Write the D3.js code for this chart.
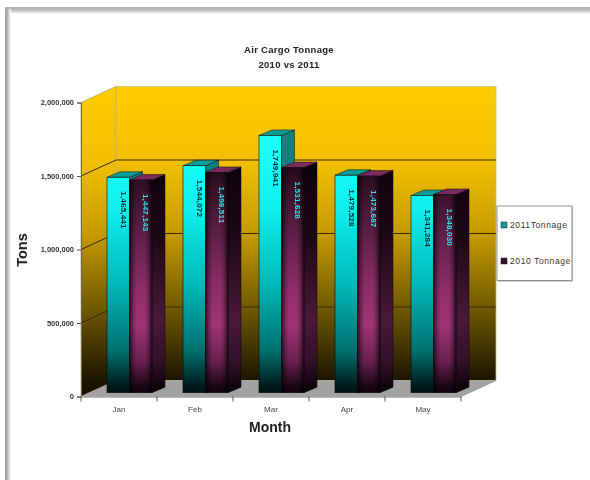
<!DOCTYPE html>
<html>
<head>
<meta charset="utf-8">
<style>
    body {
        margin: 0;
        overflow: hidden;
        background: #fff;
    }

    #chart {
        filter: blur(0.5px);
    }

    text {
        font-family: "Liberation Sans", Arial, sans-serif;
    }
</style>
<script src="https://cdn.jsdelivr.net/npm/d3@7"></script>
</head>
<body>
<svg id="chart" width="590" height="480"></svg>
<script>
    const months = ["Jan", "Feb", "Mar", "Apr", "May"];
    const tons2011 = [1465441, 1544072, 1749941, 1479528, 1341284];
    const tons2010 = [1447143, 1498511, 1531628, 1473687, 1348030];
    const yTicks = [0, 500000, 1000000, 1500000, 2000000];
    const seriesNames = ["2011Tonnage", "2010 Tonnage"];

    const svg = d3.select("#chart");
    const defs = svg.append("defs");

    // the chart is a fake 3d box: front plane plus a depth offset
    const depthX = 35, depthY = 16;
    const barDepthX = 13, barDepthY = 5.5;
    const barLiftX = 8.3, barLiftY = 3.8;
    const barShift = 2.2;

    const x = d3.scaleBand().domain(months).range([81, 461]).paddingInner(31 / 76).paddingOuter(15.5 / 76);
    const xSeries = d3.scaleBand().domain(seriesNames).range([0, x.bandwidth()]);
    const y = d3.scaleLinear().domain([0, 2000000]).range([396.5, 102.5]);
    const [xLeft, xRight] = x.range();

    function gradient(id, stops, coords) {
        const g = defs.append("linearGradient").attr("id", id).attr("gradientUnits", "userSpaceOnUse");
        Object.entries(coords).forEach(([k, v]) => g.attr(k, v));
        stops.forEach(s => g.append("stop").attr("offset", s[0]).attr("stop-color", s[1]).attr("stop-opacity", s[2] === undefined ? 1 : s[2]));
    }

    const vertical = {x1: 0, x2: 0, y1: 87, y2: 396};
    gradient("wall", [[0, "#ffcc00"], [0.24, "#f2c000"], [0.48, "#c49a00"], [0.72, "#6f5800"], [0.95, "#1c1500"], [1, "#151000"]], vertical);
    gradient("cyanFront", [[0, "#20ffff"], [0.3, "#10f0f0"], [0.6, "#00b8b8"], [0.85, "#007070"], [1, "#001414"]], {x1: 0, x2: 0, y1: 134, y2: 393});
    gradient("maroonFront", [[0, "#1c0614"], [0.25, "#4c1a3a"], [0.55, "#8a2c66"], [0.72, "#a03476"], [0.88, "#6a2050"], [1, "#12030c"]], {x1: 0, x2: 0, y1: 160, y2: 393});
    gradient("maroonSide", [[0, "#0c0208"], [0.35, "#1e0816"], [0.7, "#4a1838"], [0.88, "#34102a"], [1, "#0c0208"]], {x1: 0, x2: 0, y1: 160, y2: 393});
    gradient("frameTop", [[0, "#b0b0b0"], [0.45, "#bdbdbd"], [1, "#ffffff"]], {x1: 0, x2: 0, y1: 7, y2: 14});
    gradient("frameLeft", [[0, "#9a9a9a"], [0.4, "#b4b4b4"], [1, "#ffffff"]], {x1: 5, x2: 11, y1: 0, y2: 0});

    // page frame
    svg.append("rect").attr("x", 5).attr("y", 7).attr("width", 585).attr("height", 7).attr("fill", "url(#frameTop)");
    svg.append("rect").attr("x", 5).attr("y", 9).attr("width", 6).attr("height", 471).attr("fill", "url(#frameLeft)");

    // titles
    svg.append("text").attr("x", 289).attr("y", 53).attr("text-anchor", "middle")
        .attr("font-size", 9.5).attr("font-weight", "bold").attr("letter-spacing", 0.3).attr("fill", "#222").text("Air Cargo Tonnage");
    svg.append("text").attr("x", 289).attr("y", 68).attr("text-anchor", "middle")
        .attr("font-size", 9.5).attr("font-weight", "bold").attr("letter-spacing", 0.3).attr("fill", "#222").text("2010 vs 2011");
    svg.append("text").attr("x", 270).attr("y", 432).attr("text-anchor", "middle")
        .attr("font-size", 14).attr("font-weight", "bold").attr("fill", "#222").text("Month");
    svg.append("text").attr("transform", "translate(27,250) rotate(-90)").attr("text-anchor", "middle")
        .attr("font-size", 14.5).attr("font-weight", "bold").attr("fill", "#222").text("Tons");

    const poly = pts => pts.map(p => p.join(",")).join(" ");

    // walls and floor
    svg.append("polygon")
        .attr("points", poly([[xLeft, y(2000000)], [xLeft + depthX, y(2000000) - depthY], [xLeft + depthX, y(0) - depthY], [xLeft, y(0)]]))
        .attr("fill", "url(#wall)").attr("stroke", "#a89a50").attr("stroke-width", 0.7);
    svg.append("rect")
        .attr("x", xLeft + depthX).attr("y", y(2000000) - depthY)
        .attr("width", xRight - xLeft).attr("height", y(0) - y(2000000))
        .attr("fill", "url(#wall)").attr("stroke", "#c8bc78").attr("stroke-width", 0.8);
    svg.append("polygon")
        .attr("points", poly([[xLeft, y(0)], [xLeft + depthX, y(0) - depthY], [xRight + depthX, y(0) - depthY], [xRight, y(0)]]))
        .attr("fill", "#a2a2a2");

    // gridlines, the back wall one and the part running along the left wall
    svg.append("g").selectAll("path").data(yTicks.filter(d => d > 0 && d < 2000000)).join("path")
        .attr("d", d => `M${xLeft},${y(d)}L${xLeft + depthX},${y(d) - depthY}H${xRight + depthX}`)
        .attr("fill", "none").attr("stroke", "#3a2a00").attr("stroke-width", 1);

    // y axis
    const yAxis = svg.append("g").attr("transform", `translate(${xLeft},0)`)
        .call(d3.axisLeft(y).tickValues(yTicks).tickFormat(d3.format(",")).tickSize(4).tickPadding(3));
    yAxis.selectAll("text").attr("font-size", 7.5).attr("font-weight", "bold").attr("fill", "#333").style("font-family", "'Liberation Sans'");
    yAxis.selectAll("line").attr("stroke", "#555");
    yAxis.select(".domain").attr("stroke", "#6a6a5a");

    // x axis, labels centred in the bands and ticks on the band edges
    const xAxis = svg.append("g").attr("transform", `translate(0,${y(0)})`)
        .call(d3.axisBottom(x).tickSize(0).tickPadding(10));
    xAxis.selectAll("text").attr("font-size", 8).attr("fill", "#444").style("font-family", "'Liberation Sans'");
    xAxis.select(".domain").attr("stroke", "#777").attr("stroke-width", 1.2);
    xAxis.selectAll(".edge").data(d3.range(months.length + 1)).join("line").attr("class", "edge")
        .attr("x1", i => xLeft + i * x.step()).attr("x2", i => xLeft + i * x.step())
        .attr("y1", 0).attr("y2", 5).attr("stroke", "#555");
    svg.append("line")
        .attr("x1", xRight).attr("y1", y(0)).attr("x2", xRight + depthX).attr("y2", y(0) - depthY)
        .attr("stroke", "#999");

    // bars, 2011 first so that the 2010 bar covers its side face
    const series = [
        {name: seriesNames[0], values: tons2011, front: "url(#cyanFront)", side: "#0f7f80", top: "#0e9c98", label: "#062a2a"},
        {name: seriesNames[1], values: tons2010, front: "url(#maroonFront)", side: "url(#maroonSide)", top: "#7a2a5c", label: "#2fe6e6"}
    ];

    gradient("maroonBow", [[0, "#000", 0.7], [0.18, "#000", 0.2], [0.32, "#000", 0], [0.68, "#000", 0], [0.82, "#000", 0.2], [1, "#000", 0.7]], {x1: 0, x2: 1, y1: 0, y2: 0});
    defs.select("#maroonBow").attr("gradientUnits", "objectBoundingBox");

    const w = xSeries.bandwidth();
    series.forEach((s, si) => {
        const bars = svg.append("g").selectAll("g").data(months).join("g")
            .attr("transform", m => `translate(${x(m) + xSeries(s.name) + barLiftX + barShift},${-barLiftY})`);

        bars.append("polygon")
            .attr("points", (m, i) => poly([[w, y(s.values[i])], [w + barDepthX, y(s.values[i]) - barDepthY], [w + barDepthX, y(0) - barDepthY], [w, y(0)]]))
            .attr("fill", s.side).attr("stroke", "#0a0a0a").attr("stroke-width", 0.5);
        bars.append("polygon")
            .attr("points", (m, i) => poly([[0, y(s.values[i])], [barDepthX, y(s.values[i]) - barDepthY], [w + barDepthX, y(s.values[i]) - barDepthY], [w, y(s.values[i])]]))
            .attr("fill", s.top).attr("stroke", "#0a0a0a").attr("stroke-width", 0.5);
        bars.append("rect")
            .attr("x", 0).attr("width", w)
            .attr("y", (m, i) => y(s.values[i])).attr("height", (m, i) => y(0) - y(s.values[i]))
            .attr("fill", s.front).attr("stroke", "#0a0a0a").attr("stroke-width", 0.6);
        if (si === 1) {
            bars.append("rect")
                .attr("x", 0).attr("width", w)
                .attr("y", (m, i) => y(s.values[i])).attr("height", (m, i) => y(0) - y(s.values[i]))
                .attr("fill", "url(#maroonBow)");
        }
    });

    // value labels go after all bars, rotated to read downward
    series.forEach(s => {
        svg.append("g").selectAll("text").data(months).join("text")
            .attr("transform", (m, i) => `translate(${x(m) + xSeries(s.name) + barLiftX + barShift + w / 2 + 5},${y(s.values[i]) - barLiftY + 14}) rotate(90)`)
            .attr("text-anchor", "start").attr("dy", "0.33em")
            .attr("font-size", 8).attr("font-weight", "bold").attr("letter-spacing", 0.2).attr("fill", s.label)
            .text((m, i) => d3.format(",")(s.values[i]));
    });

    // legend
    const legend = svg.append("g");
    legend.append("rect").attr("x", 498).attr("y", 207).attr("width", 75).attr("height", 75).attr("fill", "#d0d0d0");
    legend.append("rect").attr("x", 497).attr("y", 206).attr("width", 75).attr("height", 74.5)
        .attr("fill", "#fff").attr("stroke", "#777").attr("stroke-width", 0.8);
    const legendY = d3.scalePoint().domain(seriesNames).range([225, 261]);
    const legendColor = d3.scaleOrdinal().domain(seriesNames).range(["#0f9a9a", "#3a1030"]);
    legend.selectAll("rect.sw").data(seriesNames).join("rect").attr("class", "sw")
        .attr("x", 501).attr("y", d => legendY(d) - 3).attr("width", 6).attr("height", 6)
        .attr("fill", d => legendColor(d)).attr("stroke", "#222").attr("stroke-width", 0.5);
    legend.selectAll("text").data(seriesNames).join("text")
        .attr("x", 510).attr("y", d => legendY(d) + 3)
        .attr("font-size", 8.5).attr("letter-spacing", 0.6).attr("fill", "#333").text(d => d);
</script>
</body>
</html>
